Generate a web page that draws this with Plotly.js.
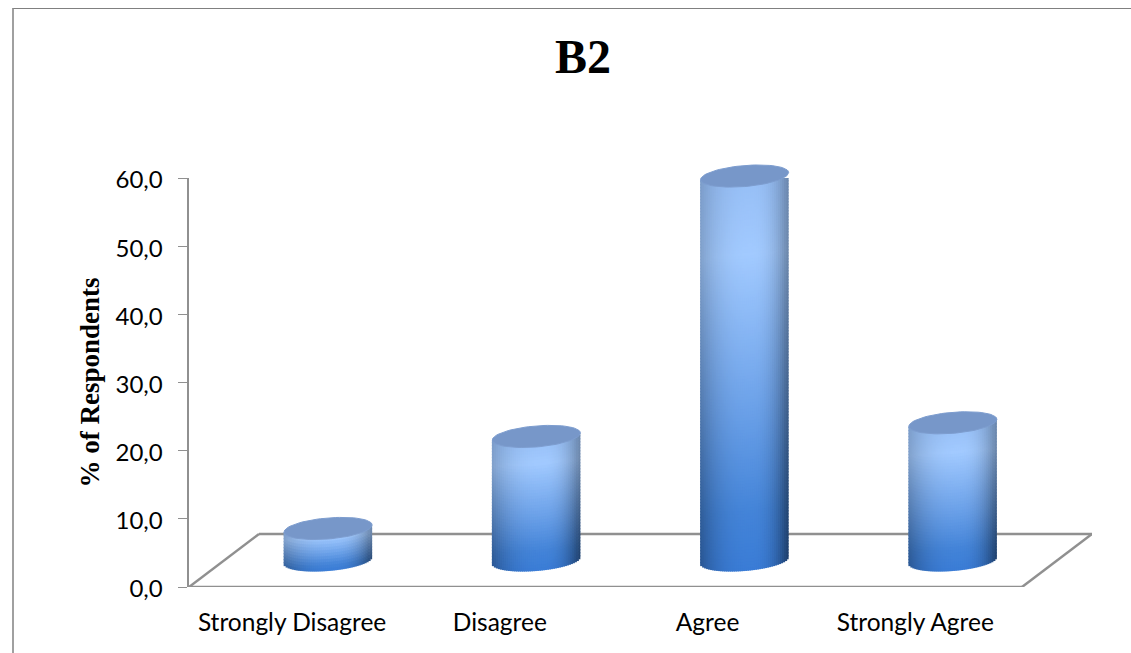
<!DOCTYPE html>
<html>
<head>
<meta charset="utf-8">
<script src="https://cdn.plot.ly/plotly-3.0.1.min.js"></script>
<style>
  html, body { margin: 0; padding: 0; background: #fff; overflow: hidden; }
  #chart { position: absolute; left: 0; top: 0; width: 1131px; height: 653px; }
  #frame { position: absolute; left: 12px; top: 8px; right: 0; bottom: 0;
           border-left: 2px solid #a0a0a0; border-top: 1px solid #808080; pointer-events: none; }
</style>
</head>
<body>
<div id="chart"></div>
<div id="frame"></div>
<script>
// Survey responses for item B2
const categories = ["Strongly Disagree", "Disagree", "Agree", "Strongly Agree"];
const percentages = [4.7, 18.2, 56.4, 20.2];
const yTicks = [0, 10, 20, 30, 40, 50, 60];

// Plot box in pixels; the x range leaves room for the receding floor
const W = 1131, H = 653;
const box = { left: 189, right: 1092, top: 178, bottom: 587, headroom: 150 };
const pxPerCat = 208.25;
const pxPerUnit = (box.bottom - box.top) / 60;
const depthPx = { x: 70, y: 53 };
const xMin = -0.5;
const xMax = xMin + (box.right - box.left) / pxPerCat;
const dx = px => px / pxPerCat;
const dy = px => px / pxPerUnit;

// Cylinder geometry, in pixels
const radius = 44, minor = 10.5, tilt = 3.5;
const stripPx = 2, stepPx = 3, overlapPx = 1;
const centreShift = dx(depthPx.x / 2);
const floorLevel = dy(depthPx.y / 2);

// Body colour from top (t = 0) to bottom (t = 1)
const stops = [
  [0.00, [150, 190, 245]],
  [0.20, [162, 202, 255]],
  [0.60, [106, 160, 232]],
  [0.85, [68, 132, 216]],
  [1.00, [58, 124, 214]]
];
function bodyColour(t, u) {
  let i = 0;
  while (i < stops.length - 2 && t > stops[i + 1][0]) i++;
  const [t0, c0] = stops[i], [t1, c1] = stops[i + 1];
  const m = Math.min(1, Math.max(0, (t - t0) / (t1 - t0)));
  const u0 = 0.15;
  // The sides darken more towards the foot of the cylinder
  const shade = u < u0
    ? 1 - (0.18 + 0.14 * t) * Math.pow((u0 - u) / (1 + u0), 2.5)
    : 1 - (0.30 + 0.22 * t) * Math.pow((u - u0) / (1 - u0), 2.5);
  const rgb = c0.map((c, k) => Math.round((c + (c1[k] - c) * m) * shade));
  return `rgb(${rgb.join(",")})`;
}

// Each cylinder is a stack of thin shaded bars between the base curve and the top;
// neighbours overlap by a pixel so no seams show between them
const barX = [], barBase = [], barHeight = [], barWidth = [], barColour = [];
percentages.forEach((value, i) => {
  const cx = i + centreShift;
  const strips = Math.round(2 * radius / stripPx);
  for (let k = 0; k < strips; k++) {
    const u = -1 + (k + 0.5) * 2 / strips;
    const top = floorLevel + value + dy(tilt * u);
    const low = floorLevel + dy(tilt * u - minor * Math.sqrt(1 - u * u));
    const span = value + dy(minor);
    const step = dy(stepPx);
    for (let v = low; v < top; v += step) {
      const h = Math.min(step, top - v);
      barX.push(cx + dx(u * radius));
      barBase.push(v);
      barHeight.push(Math.min(h + dy(overlapPx), top - v));
      barWidth.push(dx(k < strips - 1 ? stripPx + overlapPx : stripPx));
      barColour.push(bodyColour((top - v - h / 2) / span, u));
    }
  }
});

const traces = [{
  type: "bar",
  x: barX, y: barHeight, base: barBase, width: barWidth,
  marker: { color: barColour, line: { width: 0 } },
  hoverinfo: "skip", showlegend: false
}];

// Elliptical cap on every cylinder, on a taller axis of the same scale so it can rise past 60
percentages.forEach((value, i) => {
  const xs = [], ys = [];
  for (let a = 0; a <= 72; a++) {
    const th = a / 72 * 2 * Math.PI;
    const c = Math.cos(th), s = Math.sin(th);
    xs.push(i + centreShift + dx(radius * c));
    ys.push(floorLevel + value + dy(tilt * c + minor * s));
  }
  traces.push({
    type: "scatter", mode: "lines", x: xs, y: ys, yaxis: "y2",
    fill: "toself", fillcolor: "#7797c9",
    line: { color: "#7d9dcf", width: 1 },
    hoverinfo: "skip", showlegend: false
  });
});

// Floor outline sits beneath the cylinders
const floorEdge = (x0, y0, x1, y1) => ({
  type: "line", layer: "below", xref: "x", yref: "y",
  x0, y0, x1, y1, line: { color: "#909090", width: 2.5 }
});
const backLeft = xMin + dx(depthPx.x), backRight = xMax, backY = dy(depthPx.y), frontRight = xMax - dx(depthPx.x);

const plotHeight = box.bottom - box.headroom;

const layout = {
  width: W, height: H,
  margin: { l: box.left, r: W - box.right, t: box.headroom, b: H - box.bottom, pad: 0 },
  paper_bgcolor: "#fff", plot_bgcolor: "rgba(0,0,0,0)",
  separators: ",.",
  showlegend: false,
  barmode: "overlay",
  title: {
    text: "<b>B2</b>",
    font: { family: "Liberation Serif", size: 48, color: "#000" },
    x: 583 / W, xanchor: "center", xref: "container",
    y: 1 - 56 / H, yanchor: "middle", yref: "container"
  },
  xaxis: {
    range: [xMin, xMax], showgrid: false, zeroline: false, showline: false,
    tickmode: "array", tickvals: categories.map((_, i) => i * 0.9975 - 0.005), ticktext: categories,
    ticks: "", ticklabelstandoff: 18,
    tickfont: { family: "Lato", size: 24.5, color: "#000" }
  },
  yaxis: {
    domain: [0, (box.bottom - box.top) / plotHeight],
    range: [0, 60], showgrid: false, zeroline: false,
    showline: true, linecolor: "#909090", linewidth: 2.5,
    tickmode: "array", tickvals: yTicks, tickformat: ".1f",
    ticks: "outside", ticklen: 9, tickwidth: 1, tickcolor: "#909090",
    ticklabelstandoff: 10, ticklabelshift: 2,
    tickfont: { family: "Lato", size: 24, color: "#000" },
    title: {
      text: "<b>% of Respondents</b>",
      font: { family: "Liberation Serif", size: 27, color: "#000" },
      standoff: 8
    }
  },
  yaxis2: {
    anchor: "x", domain: [0, 1],
    range: [0, dy(plotHeight)], visible: false, fixedrange: true
  },
  shapes: [
    floorEdge(xMin, 0, frontRight, 0),
    floorEdge(frontRight, 0, backRight, backY),
    floorEdge(backRight, backY, backLeft, backY),
    floorEdge(backLeft, backY, xMin, 0)
  ]
};

Plotly.newPlot("chart", traces, layout, { displayModeBar: false, staticPlot: true });
</script>
</body>
</html>
